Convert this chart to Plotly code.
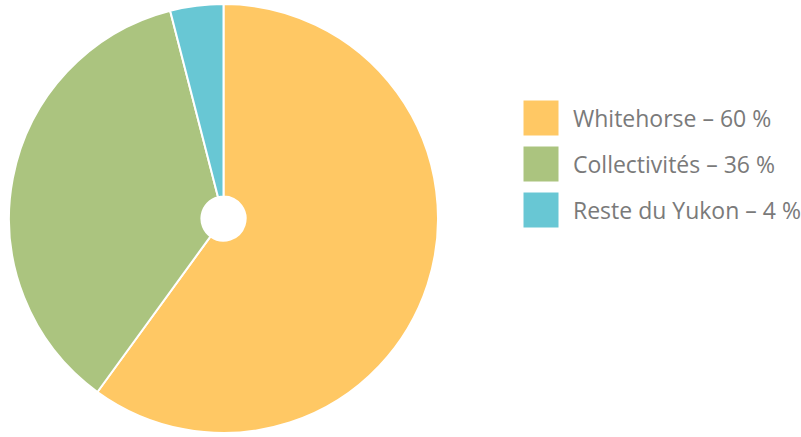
import plotly.graph_objects as go

labels = ["Whitehorse", "Collectivités", "Reste du Yukon"]
values = [60, 36, 4]
legend_texts = ["Whitehorse – 60 %", "Collectivités – 36 %", "Reste du Yukon – 4 %"]
colors = ["#FFC864", "#ABC47F", "#68C7D4"]

W, H = 801, 437

fig = go.Figure(go.Pie(
    labels=labels,
    values=values,
    sort=False,
    direction="clockwise",
    rotation=0,
    hole=0.103,
    marker=dict(colors=colors, line=dict(color="white", width=2)),
    textinfo="none",
    hoverinfo="label+percent",
    showlegend=False,
    domain=dict(x=[9 / W, 438 / W], y=[0, 1]),
))

# Custom legend with large square swatches
sw_x0, sw_size, first_top, step, text_x = 523, 36, 100, 46, 571
for i, (txt, col) in enumerate(zip(legend_texts, colors)):
    top = first_top + i * step
    fig.add_shape(
        type="rect", xref="paper", yref="paper",
        x0=sw_x0 / W, x1=(sw_x0 + sw_size) / W,
        y0=1 - (top + sw_size) / H, y1=1 - top / H,
        fillcolor=col, line=dict(color="white", width=1),
    )
    fig.add_annotation(
        xref="paper", yref="paper",
        x=text_x / W, y=1 - (top + sw_size / 2) / H,
        xanchor="left", yanchor="middle",
        text=txt, showarrow=False,
        font=dict(family="Open Sans", size=23, color="#7A7A7A"),
    )

fig.update_layout(
    width=W, height=H,
    margin=dict(l=0, r=0, t=0, b=0),
    paper_bgcolor="white",
    plot_bgcolor="white",
)

fig.write_html("out.html")
